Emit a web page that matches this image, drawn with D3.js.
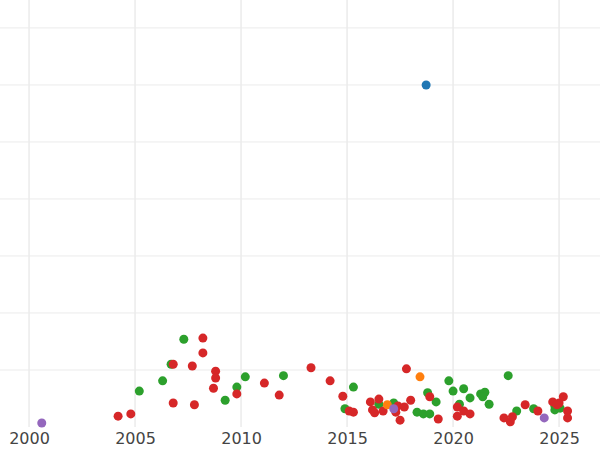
<!DOCTYPE html>
<html>
<head>
<meta charset="utf-8">
<script src="https://cdn.jsdelivr.net/npm/d3@7"></script>
<style>
  body { margin: 0; background: #fff; }
  svg { display: block; }
</style>
</head>
<body>
<div id="viz"></div>
<script>
// point data: [year, value]
const greenPts = [
  [2005.2,0.63],[2006.3,0.81],[2006.7,1.1],[2007.3,1.54],[2009.25,0.47],[2009.8,0.7],
  [2010.2,0.88],[2012.0,0.9],[2015.3,0.7],[2014.9,0.32],[2016.5,0.4],[2017.2,0.42],
  [2018.3,0.26],[2018.6,0.23],[2018.9,0.23],[2018.8,0.6],[2019.2,0.44],[2019.8,0.81],
  [2020.0,0.63],[2020.5,0.67],[2020.3,0.4],[2020.8,0.51],[2021.3,0.58],[2021.5,0.61],
  [2021.4,0.53],[2021.7,0.4],[2022.6,0.9],[2023.0,0.28],[2023.8,0.32],[2024.8,0.3],
  [2024.8,0.37],[2025.05,0.33]
];
const redPts = [
  [2004.2,0.19],[2004.8,0.23],[2006.8,1.1],[2006.8,0.42],[2007.7,1.07],[2007.8,0.39],
  [2008.2,1.56],[2008.2,1.3],[2008.8,0.98],[2008.8,0.86],[2008.7,0.68],[2009.8,0.58],
  [2011.1,0.77],[2011.8,0.56],[2013.3,1.04],[2014.2,0.81],[2014.8,0.54],[2015.1,0.28],
  [2015.3,0.26],[2016.1,0.44],[2016.5,0.49],[2016.2,0.3],[2016.3,0.25],[2016.7,0.28],
  [2017.5,0.12],[2017.3,0.26],[2017.4,0.37],[2017.7,0.35],[2017.8,1.02],[2018.0,0.47],
  [2018.9,0.53],[2019.3,0.14],[2020.2,0.35],[2020.2,0.19],[2020.5,0.28],[2020.8,0.23],
  [2022.4,0.16],[2022.7,0.09],[2022.8,0.18],[2023.4,0.39],[2024.0,0.28],[2024.7,0.44],
  [2025.0,0.42],[2025.2,0.53],[2025.4,0.28],[2025.4,0.16],[2024.9,0.39]
];
const orangePts = [[2018.44,0.88],[2016.9,0.39]];
const purplePts = [[2000.6,0.07],[2017.2,0.32],[2024.3,0.16]];
const bluePts = [[2018.73,6.0]];

const series = [
  { pts: greenPts, color: '#2ca02c' },
  { pts: redPts, color: '#d62728' },
  { pts: orangePts, color: '#ff7f0e' },
  { pts: purplePts, color: '#9467bd' },
  { pts: bluePts, color: '#1f77b4' }
];

const xTicks = [2000, 2005, 2010, 2015, 2020, 2025];
const yGrid = [1, 2, 3, 4, 5, 6, 7];

const width = 600, height = 450;
const x = d3.scaleLinear().domain([1998.63, 2026.93]).range([0, width]);
const y = d3.scaleLinear().domain([0, 7.49]).range([427, 0]);

const svg = d3.select('#viz').append('svg')
  .attr('width', width)
  .attr('height', height);

// grid
svg.append('g')
  .selectAll('line.h')
  .data(yGrid)
  .join('line')
  .attr('x1', 0).attr('x2', width)
  .attr('y1', d => y(d)).attr('y2', d => y(d))
  .attr('stroke', '#ebebeb').attr('stroke-width', 1);

svg.append('g')
  .selectAll('line.v')
  .data(xTicks)
  .join('line')
  .attr('x1', d => x(d)).attr('x2', d => x(d))
  .attr('y1', 0).attr('y2', 427)
  .attr('stroke', '#ebebeb').attr('stroke-width', 1.5);

// x axis labels
const xAxis = svg.append('g')
  .attr('transform', 'translate(0,427)')
  .call(d3.axisBottom(x).tickValues(xTicks).tickFormat(d3.format('d')).tickSize(0).tickPadding(6));
xAxis.select('.domain').remove();
xAxis.selectAll('text')
  .style('font-family', '"DejaVu Sans", sans-serif')
  .style('font-size', '16px')
  .attr('fill', '#444');

// points
series.forEach(s => {
  svg.append('g')
    .selectAll('circle')
    .data(s.pts)
    .join('circle')
    .attr('cx', d => x(d[0]))
    .attr('cy', d => y(d[1]))
    .attr('r', 4.5)
    .attr('fill', s.color);
});
</script>
</body>
</html>
